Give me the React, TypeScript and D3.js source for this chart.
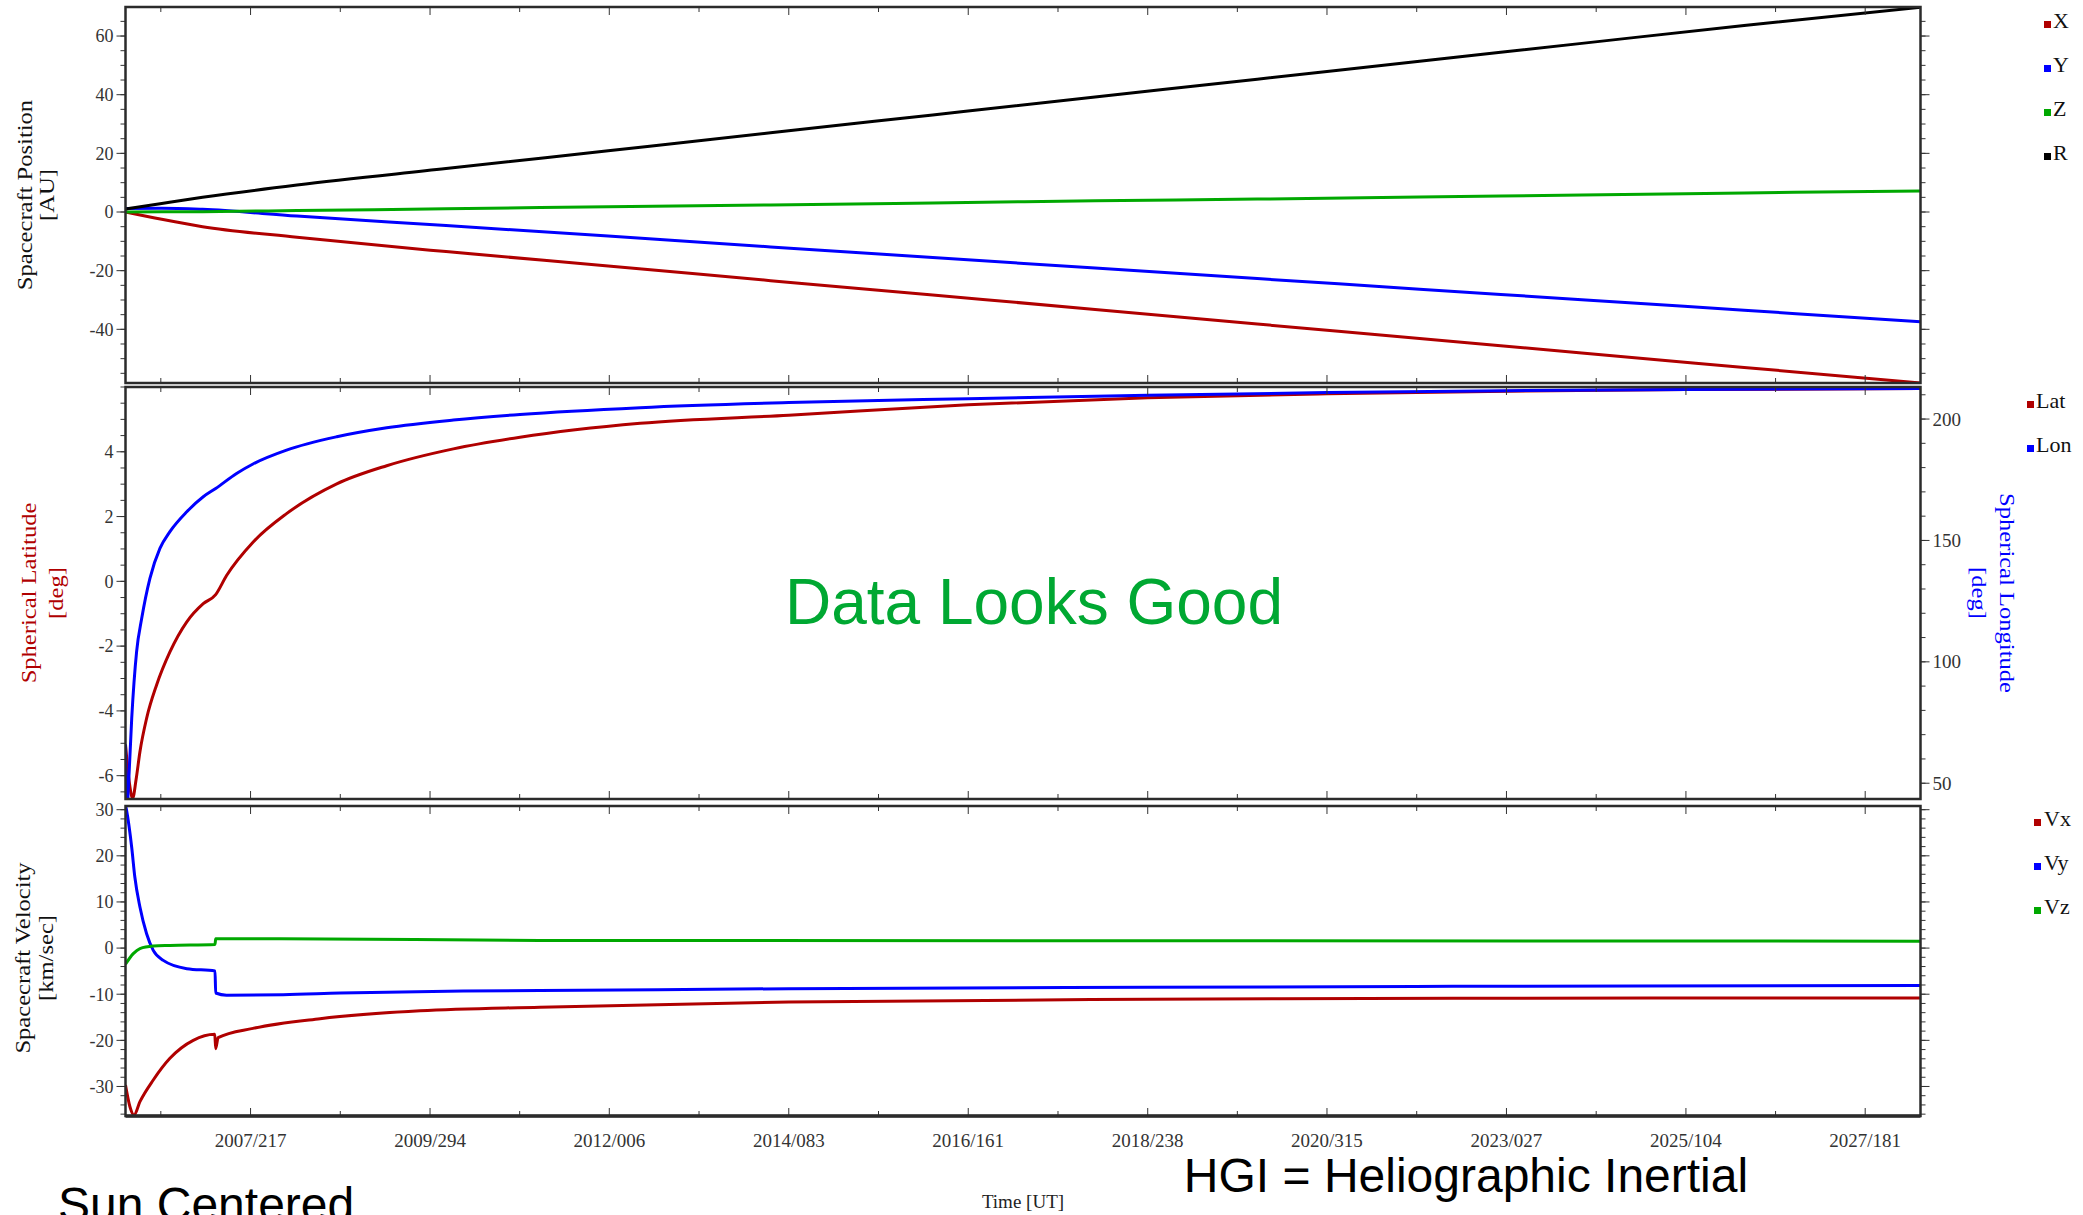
import React from 'react';
import * as d3 from 'd3';

const W = 2083;
const H = 1215;

const SERIF = '"Liberation Serif", "Times New Roman", serif';
const SANS = '"Liberation Sans", Arial, sans-serif';

const RED = '#b00000';
const BLUE = '#0000ff';
const GREEN = '#00a800';
const BLACK = '#000000';

// time axis
const timeDomain = ['2006-01-19', '2028-03-05'];
const timeTickLabels = [
  '2007/217', '2009/294', '2012/006', '2014/083', '2016/161',
  '2018/238', '2020/315', '2023/027', '2025/104', '2027/181',
];

// spacecraft position [AU]
const posDates = [
  '2006-01-19', '2006-07-01', '2007-01-01', '2008-03-01', '2010-01-01', '2012-01-01', '2014-01-01',
  '2016-01-01', '2018-01-01', '2020-01-01', '2022-01-01', '2024-01-01', '2026-01-01', '2028-03-05',
];
const posX = [0.0, -2.5, -5.0, -8.6, -13.5, -18.4, -23.4, -28.3, -33.2, -38.2, -43.1, -48.1, -53.0, -58.3];
const posY = [1.2, 1.3, 0.9, -1.4, -4.6, -8.2, -11.9, -15.5, -19.1, -22.7, -26.3, -29.9, -33.5, -37.4];
const posZ = [0.0, 0.05, 0.1, 0.5, 1.1, 1.8, 2.4, 3.1, 3.8, 4.4, 5.1, 5.8, 6.5, 7.2];
const posR = [1.0, 2.9, 5.0, 9.2, 14.8, 20.9, 27.0, 33.1, 39.2, 45.3, 51.4, 57.5, 63.6, 69.8];

// spherical latitude / longitude [deg]
const latData: [string, number][] = [
  ['2006-01-19', -5.05], ['2006-02-05', -6.2], ['2006-02-20', -6.7], ['2006-03-08', -6.1],
  ['2006-03-25', -5.26], ['2006-04-24', -4.23], ['2006-06-08', -3.2], ['2006-08-07', -2.18],
  ['2006-10-22', -1.25], ['2007-01-04', -0.69], ['2007-03-01', -0.41], ['2007-04-19', 0.18],
  ['2007-08-16', 1.21], ['2008-01-14', 2.09], ['2008-08-27', 3.01], ['2009-04-09', 3.57],
  ['2010-02-03', 4.09], ['2010-11-30', 4.45], ['2012-05-24', 4.88], ['2014-03-24', 5.13],
  ['2016-06-09', 5.45], ['2018-08-26', 5.67], ['2020-11-10', 5.79], ['2023-01-27', 5.87],
  ['2025-04-14', 5.92], ['2028-03-05', 5.95],
];
const lonData: [string, number][] = [
  ['2006-01-19', 66], ['2006-01-25', 38], ['2006-02-01', 48], ['2006-02-16', 76.7],
  ['2006-03-10', 104.2], ['2006-04-02', 117.9], ['2006-05-09', 134.4], ['2006-06-23', 146.7],
  ['2006-08-07', 153.6], ['2006-10-22', 161.8], ['2007-01-04', 168], ['2007-03-01', 171.4],
  ['2007-06-03', 177.6], ['2007-08-16', 181.5], ['2008-01-14', 187.2], ['2008-08-27', 192.7],
  ['2009-04-09', 196.4], ['2010-02-03', 199.6], ['2010-11-30', 201.9], ['2012-05-24', 204.7],
  ['2014-03-24', 206.8], ['2016-06-09', 208.4], ['2018-08-26', 209.8], ['2020-11-10', 210.9],
  ['2023-01-27', 211.7], ['2025-04-14', 212.2], ['2028-03-05', 212.6],
];

// spacecraft velocity [km/sec]
const vxData: [string, number][] = [
  ['2006-01-19', -29.7], ['2006-02-08', -34.4], ['2006-02-26', -36.2], ['2006-03-25', -33.3],
  ['2006-05-24', -28.6], ['2006-08-07', -23.9], ['2006-11-20', -20.0], ['2007-02-25', -18.7],
  ['2007-03-01', -21.8], ['2007-03-12', -19.4], ['2007-08-16', -17.4], ['2008-06-13', -15.3],
  ['2009-09-06', -13.6], ['2011-02-28', -12.8], ['2014-03-24', -11.7], ['2018-08-26', -11.1],
  ['2022-06-01', -10.9], ['2028-03-05', -10.8],
];
const vyData: [string, number][] = [
  ['2006-01-19', 31.0], ['2006-01-24', 29.8], ['2006-02-16', 21.8], ['2006-03-02', 15.4],
  ['2006-03-25', 8.9], ['2006-04-24', 3.1], ['2006-05-24', -0.5], ['2006-07-08', -2.66],
  ['2006-10-22', -4.46], ['2007-02-26', -4.97], ['2007-03-01', -9.74], ['2007-04-19', -10.2],
  ['2007-12-30', -10.1], ['2008-09-11', -9.74], ['2010-03-20', -9.3], ['2011-02-28', -9.2],
  ['2014-03-24', -8.8], ['2018-08-26', -8.5], ['2022-06-01', -8.3], ['2028-03-05', -8.1],
];
const vzData: [string, number][] = [
  ['2006-01-19', -3.5], ['2006-02-23', -1.2], ['2006-03-25', -0.1], ['2006-05-24', 0.44],
  ['2006-08-07', 0.58], ['2007-02-26', 0.8], ['2007-03-01', 2.0], ['2007-12-15', 2.0],
  ['2011-02-28', 1.67], ['2028-03-05', 1.5],
];

const parseDate = d3.timeParse('%Y-%m-%d') as (s: string) => Date;
const parseDay = d3.timeParse('%Y/%j') as (s: string) => Date;

const left = 125.5;
const right = 1920.5;

const x = d3.scaleTime().domain(timeDomain.map(parseDate)).range([left, right]);

const panels = {
  pos: { top: 7, bottom: 383 },
  sph: { top: 387, bottom: 799 },
  vel: { top: 806, bottom: 1116 },
};

const yPos = d3.scaleLinear().domain([-58.3, 69.9]).range([panels.pos.bottom, panels.pos.top]);
const yLat = d3.scaleLinear().domain([-6.72, 6.0]).range([panels.sph.bottom, panels.sph.top]);
const yLon = d3.scaleLinear().domain([43.5, 213.2]).range([panels.sph.bottom, panels.sph.top]);
const yVel = d3.scaleLinear().domain([-36.4, 30.8]).range([panels.vel.bottom, panels.vel.top]);

const majorDates = timeTickLabels.map(parseDay);
const halfStep = (majorDates[1].getTime() - majorDates[0].getTime()) / 2;
const minorDates = [new Date(majorDates[0].getTime() - halfStep)].concat(
  majorDates.slice(1).map((d, i) => new Date((d.getTime() + majorDates[i].getTime()) / 2))
);

function makeLine(y: d3.ScaleLinear<number, number>) {
  return d3.line<[Date, number]>().x(d => x(d[0])).y(d => y(d[1])).curve(d3.curveMonotoneX);
}

const asPairs = (dates: string[], vals: number[]) => dates.map((d, i) => [parseDate(d), vals[i]] as [Date, number]);
const fromTuples = (arr: [string, number][]) => arr.map(d => [parseDate(d[0]), d[1]] as [Date, number]);

function XTicks({ top, bottom }: { top: number; bottom: number }) {
  return (
    <g stroke="#333" strokeWidth={1}>
      {majorDates.map((d, i) => (
        <g key={'M' + i}>
          <line x1={x(d)} x2={x(d)} y1={top} y2={top + 8} />
          <line x1={x(d)} x2={x(d)} y1={bottom} y2={bottom - 8} />
        </g>
      ))}
      {minorDates.map((d, i) => (
        <g key={'m' + i}>
          <line x1={x(d)} x2={x(d)} y1={top} y2={top + 5} />
          <line x1={x(d)} x2={x(d)} y1={bottom} y2={bottom - 5} />
        </g>
      ))}
    </g>
  );
}

function YTicks({ y, major, minor, side, labels, fontSize }: {
  y: d3.ScaleLinear<number, number>; major: number[]; minor: number[];
  side: 'left' | 'right'; labels: boolean; fontSize: number;
}) {
  const x0 = side === 'left' ? left : right;
  const dir = side === 'left' ? -1 : 1;
  return (
    <g>
      <g stroke="#333" strokeWidth={1}>
        {minor.map(v => <line key={'m' + v} x1={x0} x2={x0 + dir * 5} y1={y(v)} y2={y(v)} />)}
        {major.map(v => <line key={'M' + v} x1={x0} x2={x0 + dir * 9} y1={y(v)} y2={y(v)} />)}
      </g>
      {labels && major.map(v => (
        <text key={'t' + v} x={x0 + dir * 12} y={y(v)} dy="0.35em"
          textAnchor={side === 'left' ? 'end' : 'start'}
          fontFamily={SERIF} fontSize={fontSize} fill="#333">{v}</text>
      ))}
    </g>
  );
}

function Legend({ items, sx, tx, y0 }: { items: [string, string][]; sx: number; tx: number; y0: number }) {
  return (
    <g>
      {items.map(([label, color], i) => (
        <g key={label}>
          <rect x={sx} y={y0 + i * 44 - 7} width={7} height={7} fill={color} />
          <text x={tx} y={y0 + i * 44} fontFamily={SERIF} fontSize={22} fill="#111">{label}</text>
        </g>
      ))}
    </g>
  );
}

// axis titles are drawn stretched along their baseline, as in the source plot
function RotTitle({ x0, y0, text, color, angle, size }: { x0: number; y0: number; text: string; color: string; angle: number; size: number }) {
  return (
    <g transform={`translate(${x0},${y0}) rotate(${angle}) scale(1.17,1)`}>
      <text x={0} y={0} textAnchor="middle" fontFamily={SERIF} fontSize={size} fill={color}>{text}</text>
    </g>
  );
}

export default function App() {
  const posLine = makeLine(yPos);
  const latLine = makeLine(yLat);
  const lonLine = makeLine(yLon);
  const velLine = makeLine(yVel);

  const posSeries: [number[], string][] = [[posX, RED], [posY, BLUE], [posZ, GREEN], [posR, BLACK]];
  const velSeries: [[string, number][], string][] = [[vxData, RED], [vyData, BLUE], [vzData, GREEN]];

  const clip = (id: string, p: { top: number; bottom: number }) => (
    <clipPath id={id}><rect x={left} y={p.top} width={right - left} height={p.bottom - p.top} /></clipPath>
  );

  return (
    <svg width={W} height={H} style={{ position: 'absolute', left: 0, top: 0, background: '#fff' }}>
      <defs>
        {clip('cPos', panels.pos)}
        {clip('cSph', panels.sph)}
        {clip('cVel', panels.vel)}
      </defs>
      <rect x={0} y={0} width={W} height={H} fill="#fff" />

      {/* position panel */}
      <g clipPath="url(#cPos)" fill="none" strokeWidth={3}>
        {posSeries.map(([vals, color], i) => (
          <path key={i} d={posLine(asPairs(posDates, vals)) || ''} stroke={color} />
        ))}
      </g>
      <YTicks y={yPos} major={[-40, -20, 0, 20, 40, 60]} minor={d3.range(-55, 70, 5)} side="left" labels fontSize={18} />
      <YTicks y={yPos} major={[-40, -20, 0, 20, 40, 60]} minor={d3.range(-55, 70, 5)} side="right" labels={false} fontSize={18} />
      <XTicks top={panels.pos.top} bottom={panels.pos.bottom} />
      <rect x={left} y={panels.pos.top} width={right - left} height={panels.pos.bottom - panels.pos.top}
        fill="none" stroke="#2b2b2b" strokeWidth={2.5} />
      <RotTitle x0={32} y0={195} text="Spacecraft Position" color="#111" angle={-90} size={21} />
      <RotTitle x0={54} y0={195} text="[AU]" color="#111" angle={-90} size={21} />
      <Legend items={[['X', RED], ['Y', BLUE], ['Z', GREEN], ['R', BLACK]]} sx={2044} tx={2053} y0={28} />

      {/* spherical panel */}
      <g clipPath="url(#cSph)" fill="none" strokeWidth={3}>
        <path d={latLine(fromTuples(latData)) || ''} stroke={RED} />
        <path d={lonLine(fromTuples(lonData)) || ''} stroke={BLUE} />
      </g>
      <YTicks y={yLat} major={[-6, -4, -2, 0, 2, 4]} minor={d3.range(-6.5, 6.01, 0.5)} side="left" labels fontSize={18} />
      <YTicks y={yLon} major={[50, 100, 150, 200]} minor={d3.range(50, 211, 10)} side="right" labels fontSize={19} />
      <XTicks top={panels.sph.top} bottom={panels.sph.bottom} />
      <rect x={left} y={panels.sph.top} width={right - left} height={panels.sph.bottom - panels.sph.top}
        fill="none" stroke="#2b2b2b" strokeWidth={2.5} />
      <RotTitle x0={36} y0={593} text="Spherical Latitude" color={RED} angle={-90} size={21} />
      <RotTitle x0={63} y0={593} text="[deg]" color={RED} angle={-90} size={21} />
      <RotTitle x0={2000} y0={593} text="Spherical Longitude" color={BLUE} angle={90} size={21} />
      <RotTitle x0={1972} y0={593} text="[deg]" color={BLUE} angle={90} size={21} />
      <Legend items={[['Lat', RED], ['Lon', BLUE]]} sx={2027} tx={2036} y0={408} />
      <text x={1034} y={624} textAnchor="middle" fontFamily={SANS} fontSize={64} fill="#00a832">Data Looks Good</text>

      {/* velocity panel */}
      <g clipPath="url(#cVel)" fill="none" strokeWidth={3}>
        {velSeries.map(([data, color], i) => (
          <path key={i} d={velLine(fromTuples(data)) || ''} stroke={color} />
        ))}
      </g>
      <YTicks y={yVel} major={[-30, -20, -10, 0, 10, 20, 30]} minor={d3.range(-36, 31, 2)} side="left" labels fontSize={18} />
      <YTicks y={yVel} major={[-30, -20, -10, 0, 10, 20, 30]} minor={d3.range(-36, 31, 2)} side="right" labels={false} fontSize={18} />
      <XTicks top={panels.vel.top} bottom={panels.vel.bottom} />
      <rect x={left} y={panels.vel.top} width={right - left} height={panels.vel.bottom - panels.vel.top}
        fill="none" stroke="#2b2b2b" strokeWidth={2.5} />
      <line x1={left} x2={right} y1={panels.vel.bottom} y2={panels.vel.bottom} stroke="#2b2b2b" strokeWidth={3.5} />
      <RotTitle x0={30} y0={958} text="Spacecraft Velocity" color="#111" angle={-90} size={21} />
      <RotTitle x0={53} y0={958} text="[km/sec]" color="#111" angle={-90} size={21} />
      <Legend items={[['Vx', RED], ['Vy', BLUE], ['Vz', GREEN]]} sx={2034} tx={2044} y0={826} />

      {/* time labels */}
      {majorDates.map((d, i) => (
        <text key={i} x={x(d)} y={1147} textAnchor="middle" fontFamily={SERIF} fontSize={19} fill="#333">
          {timeTickLabels[i]}
        </text>
      ))}
      <text x={(left + right) / 2} y={1208} textAnchor="middle" fontFamily={SERIF} fontSize={19} fill="#222">Time [UT]</text>

      <text x={58} y={1221} fontFamily={SANS} fontSize={48} fill="#000">Sun Centered</text>
      <text x={1466} y={1192} textAnchor="middle" fontFamily={SANS} fontSize={48} fill="#000">HGI = Heliographic Inertial</text>
    </svg>
  );
}
